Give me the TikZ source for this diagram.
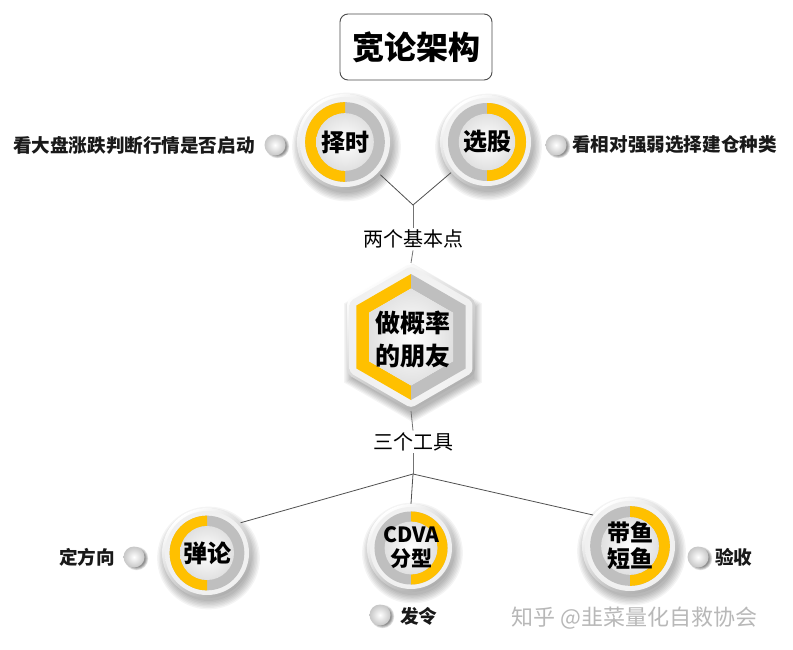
\documentclass[tikz,border=0pt]{standalone}
\usepackage{fontspec}
\setmainfont{Noto Sans CJK SC}
\newfontfamily\heavyfont{Noto Sans CJK SC Black}
\usetikzlibrary{calc}
\definecolor{ringY}{HTML}{FFC000}
\definecolor{ringG}{HTML}{BFBFBF}
\definecolor{lineC}{HTML}{505050}
\newcommand\fsz[2]{\fontsize{#1}{#2}\selectfont}
\tikzset{
  conn/.style={draw=lineC, line width=0.8pt},
  vline/.style={draw=black!55, line width=0.8pt},
  ringtext/.style={circle, inner sep=0pt, align=center, text=black},
  lbl/.style={font=\bfseries\fsz{18.6}{21}, inner sep=1pt, text=black!90},
  midlbl/.style={font=\fsz{20}{24}, inner sep=2pt, text=black},
}
\newcommand\ringunit[7]{%
  \pgfmathsetmacro\rA{#4}\pgfmathsetmacro\rB{0.83*#4}\pgfmathsetmacro\rC{0.6*#4}%
  \begin{scope}[shift={(#2,#3)}]
    \foreach \k in {0,...,6}{\fill[black,opacity=0.045] (1.5,-5) circle ({\rA-2+\k*1.4});}
    \shade[top color=white, bottom color=black!32, shading angle=35] (0,0) circle (\rA);
    \shade[inner color=white, outer color=black!6] (0,0) circle ({\rA-3});
    \fill[ringG] (0,0) circle (\rB);
    \fill[ringY] (#5:\rB) arc[start angle=#5, delta angle=180, radius=\rB] -- ({#5+180}:\rC) arc[start angle={#5+180}, delta angle=-180, radius=\rC] -- cycle;
    \shade[inner color=white, outer color=black!12] (0,0) circle (\rC);
  \end{scope}
  \node[ringtext, minimum size={2*#4}, font=#6] (#1) at (#2,#3) {#7};
}
\newcommand\bulletdot[3]{%
  \begin{scope}[shift={(#2,#3)}]
    \foreach \k in {0,...,3}{\fill[black,opacity=0.13] (2.5,-1.5) circle ({9+\k*0.9});}
    \shade[inner color=white, outer color=black!22] (0,0) circle (10.5);
  \end{scope}
  \node[circle, minimum size=21, inner sep=0pt] (#1) at (#2,#3) {};
}
\begin{document}
\begin{tikzpicture}[x=1pt,y=1pt]
\useasboundingbox (0,0) rectangle (793,-650);
\fill[white] (0,0) rectangle (793,-650);

% title
\node[draw=black!70, line width=0.9pt, rounded corners=8pt, minimum width=152, minimum height=66, font=\heavyfont\fsz{32}{36}] (title) at (416,-47) {宽论架构};

% top circles
\ringunit{zeshi}{345}{-142}{48}{90}{\heavyfont\fsz{24}{28}}{择时}
\ringunit{xuangu}{487}{-142}{47}{-90}{\heavyfont\fsz{24}{28}}{选股}

% top bullets and labels
\bulletdot{b1}{275}{-145}
\node[lbl, anchor=east] (t1) at (256,-145) {看大盘涨跌判断行情是否启动};
\bulletdot{b2}{556}{-145}
\node[lbl, anchor=west] (t2) at (571,-145) {看相对强弱选择建仓种类};

\coordinate (j1) at (413,-205);
\node[midlbl] (lbl2) at (413,-239) {两个基本点};

% hexagon
\begin{scope}[shift={(411,-337)}]
  \begin{scope}[shift={(2,-6)}]
    \foreach \k in {0,...,6}{\pgfmathsetmacro\hr{71+\k*1.4}
      \fill[black,opacity=0.045] (90:\hr) -- (150:\hr) -- (210:\hr) -- (270:\hr) -- (330:\hr) -- (30:\hr) -- cycle;}
  \end{scope}
  \shade[top color=white, bottom color=black!32, shading angle=35, rounded corners=5pt] (90:74) -- (150:74) -- (210:74) -- (270:74) -- (330:74) -- (30:74) -- cycle;
  \shade[inner color=white, outer color=black!6, rounded corners=4pt] (90:71) -- (150:71) -- (210:71) -- (270:71) -- (330:71) -- (30:71) -- cycle;
  \fill[ringY] (90:63) -- (150:63) -- (210:63) -- (270:63) -- (270:48.5) -- (210:48.5) -- (150:48.5) -- (90:48.5) -- cycle;
  \fill[ringG] (270:63) -- (330:63) -- (30:63) -- (90:63) -- (90:48.5) -- (30:48.5) -- (330:48.5) -- (270:48.5) -- cycle;
  \shade[inner color=white, outer color=black!12] (90:48.5) -- (150:48.5) -- (210:48.5) -- (270:48.5) -- (330:48.5) -- (30:48.5) -- cycle;
\end{scope}
\node[font=\heavyfont\fsz{25}{33}, align=center, inner sep=0pt] (hex) at (413,-339) {做概率\\的朋友};
\coordinate (hextop) at (411,-263);
\coordinate (hexbot) at (411,-411);

\node[midlbl] (lbl3) at (413,-442) {三个工具};
\coordinate (j2) at (413,-474);

% bottom circles
\ringunit{tanlun}{207}{-553}{45}{90}{\heavyfont\fsz{24}{28}}{弹论}
\ringunit{cdva}{411}{-548}{44}{-90}{\heavyfont\fsz{21}{24}}{CDVA\\分型}
\ringunit{daiyu}{630}{-546}{48}{-90}{\heavyfont\fsz{23}{26}}{带鱼\\短鱼}

\bulletdot{b3}{134}{-557}
\node[lbl, anchor=east] (t3) at (116,-557) {定方向};
\bulletdot{b4}{380}{-615}
\node[lbl, anchor=west] (t4) at (399,-616) {发令};
\bulletdot{b5}{698}{-557}
\node[lbl, anchor=west] (t5) at (714,-557) {验收};

% connectors
\draw[conn] (zeshi) -- (j1) -- (xuangu);
\draw[vline] (j1) -- (lbl2.north);
\draw[vline] (lbl2.south) -- (hextop);
\draw[vline] (hexbot) -- (lbl3.north);
\draw[vline] (lbl3.south) -- (j2);
\draw[conn] (tanlun.42) -- (j2) -- (daiyu.140);
\draw[conn] (j2) -- (cdva.north);

% watermark
\node[anchor=west, text=black!28, font=\fsz{22}{26}] (wm) at (508,-618) {知乎 @韭菜量化自救协会};
\end{tikzpicture}
\end{document}
